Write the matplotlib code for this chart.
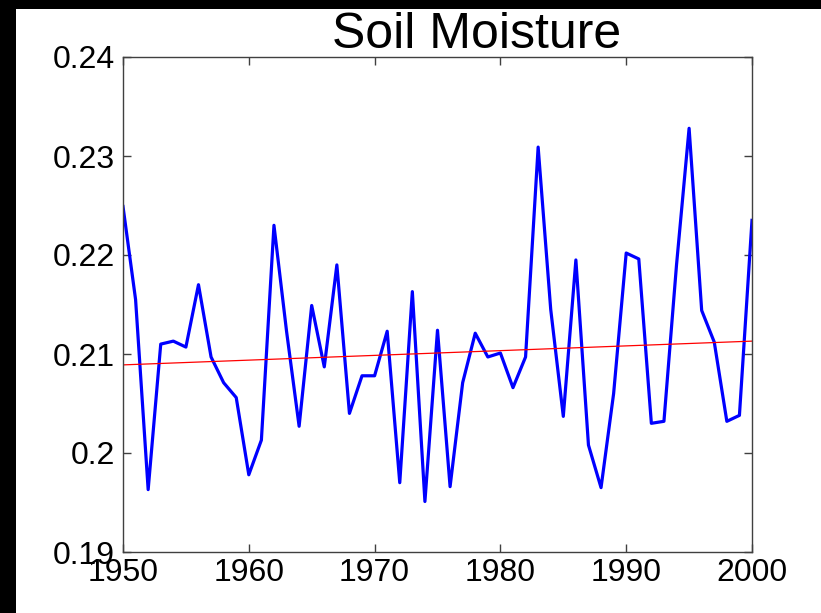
import numpy as np
import matplotlib
matplotlib.use("Agg")
import matplotlib.pyplot as plt
from matplotlib.patches import Rectangle

plt.rcParams['font.family'] = ['Liberation Sans', 'DejaVu Sans']

# Datos
years = list(range(1950, 2001))
soil = [0.2249, 0.2155, 0.1963, 0.2110, 0.2113, 0.2107, 0.2170, 0.2097, 0.2071, 0.2056,
        0.1978, 0.2013, 0.2230, 0.2123, 0.2027, 0.2149, 0.2087, 0.2190, 0.2040, 0.2078,
        0.2078, 0.2123, 0.1970, 0.2163, 0.1951, 0.2124, 0.1966, 0.2071, 0.2121, 0.2097,
        0.2101, 0.2066, 0.2097, 0.2309, 0.2145, 0.2037, 0.2195, 0.2008, 0.1965, 0.2060,
        0.2202, 0.2196, 0.2030, 0.2032, 0.2190, 0.2328, 0.2144, 0.2112, 0.2032, 0.2038,
        0.2235]
trend_years = [1950, 2000]
trend_vals = [0.2089, 0.2113]

xticks = [1950, 1960, 1970, 1980, 1990, 2000]
yticks = [0.19, 0.20, 0.21, 0.22, 0.23, 0.24]
ylabels = ["0.19", "0.2", "0.21", "0.22", "0.23", "0.24"]

fig = plt.figure(figsize=(8.21, 6.13), dpi=100)
fig.patch.set_facecolor("black")
# zona blanca (borde negro arriba e izquierda)
fig.patches.append(Rectangle((16/821, 0), 1 - 16/821, 1 - 9/613,
                             transform=fig.transFigure, facecolor="white",
                             edgecolor="none", zorder=-10))

ax = fig.add_axes([123/821, 61/613, 629/821, 495/613])
ax.set_zorder(1)
ax.plot(years, soil, color="#0000ff", linewidth=2.3)
ax.plot(trend_years, trend_vals, color="#ff0000", linewidth=0.9)

ax.set_xlim(1950, 2000)
ax.set_ylim(0.19, 0.24)
ax.set_xticks(xticks)
ax.set_yticks(yticks)
ax.set_yticklabels(ylabels)
ax.tick_params(direction="in", length=6, width=1, colors="#404040",
               labelcolor="black", labelsize=23, top=True, right=True)
ax.tick_params(axis="x", pad=4)
ax.tick_params(axis="y", pad=6)
for s in ax.spines.values():
    s.set_color("#404040")
    s.set_linewidth(1)

fig.text(477/821, 1 - 48/613, "Soil Moisture", ha="center", va="baseline",
         fontsize=36, color="black", zorder=2)

fig.savefig("out.png", dpi=100, facecolor=fig.get_facecolor())
